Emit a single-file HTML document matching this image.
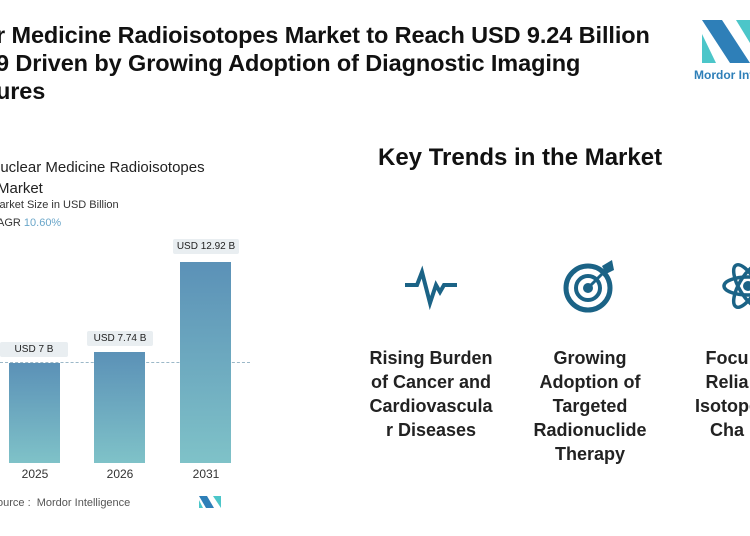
<!DOCTYPE html><html><head><style>
body{margin:0;width:750px;height:536px;background:#fff;position:relative;overflow:hidden;font-family:"Liberation Sans",sans-serif}
.a{position:absolute;white-space:nowrap}
.t{font-weight:bold;font-size:23.5px;color:#111;line-height:28px;letter-spacing:-0.1px}
.c{font-weight:bold;font-size:18px;color:#222;line-height:24px;text-align:center;width:170px}
.bar{position:absolute;background:linear-gradient(#5b91b7,#7fc2c8)}
.lb{position:absolute;background:#e9eef1;font-size:10px;color:#222;text-align:center;height:15px;line-height:15px;border-radius:2px}
.yr{position:absolute;font-size:12px;color:#333;width:60px;text-align:center}
</style></head><body>
<div class="a t" style="left:-4px;top:21px">r Medicine Radioisotopes Market to Reach USD 9.24 Billion<br>9 Driven by Growing Adoption of Diagnostic Imaging<br>ures</div>
<svg class="a" style="left:700px;top:18px" width="50" height="50"><polygon points="2,2 22,2 50,45 30,45" fill="#2e7fb8"/><polygon points="2,16 16,45 2,45" fill="#4cc6c9"/><polygon points="36,2 50,2 50,25" fill="#4cc6c9"/></svg>
<div class="a" style="left:694px;top:68px;font-size:12px;font-weight:bold;color:#2e7fb8">Mordor Inte</div>
<div class="a" style="left:-3px;top:157px;font-size:15px;color:#222;line-height:21px">luclear Medicine Radioisotopes<br>Market</div>
<div class="a" style="left:-3px;top:199px;font-size:11px;color:#333">larket Size in USD Billion</div>
<div class="a" style="left:-3px;top:217px;font-size:11px;color:#333">AGR <span style="color:#6aa6c9">10.60%</span></div>
<div class="a" style="left:0;top:362px;width:250px;border-top:1.5px dashed #9bb8c8"></div>
<div class="bar" style="left:9px;top:363px;width:51px;height:100px"></div>
<div class="bar" style="left:94px;top:352px;width:51px;height:111px"></div>
<div class="bar" style="left:180px;top:262px;width:51px;height:201px"></div>
<div class="lb" style="left:0;top:342px;width:68px">USD 7 B</div>
<div class="lb" style="left:87px;top:331px;width:66px">USD 7.74 B</div>
<div class="lb" style="left:173px;top:239px;width:66px">USD 12.92 B</div>
<div class="yr" style="left:5px;top:467px">2025</div>
<div class="yr" style="left:90px;top:467px">2026</div>
<div class="yr" style="left:176px;top:467px">2031</div>
<div class="a" style="left:-3px;top:497px;font-size:11px;color:#555">ource : &nbsp;Mordor Intelligence</div>
<svg class="a" style="left:199px;top:496px" width="22" height="12"><polygon points="0,0 8,0 15,12 7,12" fill="#2e7fb8"/><polygon points="14,0 22,0 22,12" fill="#4cc6c9"/><polygon points="0,4 4,12 0,12" fill="#4cc6c9"/></svg>
<div class="a" style="left:378px;top:144px;font-size:24px;font-weight:bold;color:#111">Key Trends in the Market</div>
<svg class="a" style="left:400px;top:265px" width="60" height="45"><polyline points="5,20 17,20 22,7 30,38 36,20 40,27 44,20 57,20" fill="none" stroke="#1b6386" stroke-width="4"/></svg>
<svg class="a" style="left:560px;top:258px" width="60" height="56"><circle cx="28" cy="30" r="22" fill="none" stroke="#1b6386" stroke-width="5"/><circle cx="28" cy="30" r="12" fill="none" stroke="#1b6386" stroke-width="4"/><circle cx="28" cy="30" r="5" fill="#1b6386"/><line x1="28" y1="30" x2="48" y2="10" stroke="#1b6386" stroke-width="3"/><polygon points="42,8 52,2 54,12 46,16" fill="#1b6386"/></svg>
<svg class="a" style="left:722px;top:258px" width="40" height="56"><ellipse cx="26" cy="28" rx="24" ry="9" fill="none" stroke="#1b6386" stroke-width="3.5"/><ellipse cx="26" cy="28" rx="24" ry="9" transform="rotate(60 26 28)" fill="none" stroke="#1b6386" stroke-width="3.5"/><ellipse cx="26" cy="28" rx="24" ry="9" transform="rotate(-60 26 28)" fill="none" stroke="#1b6386" stroke-width="3.5"/><circle cx="26" cy="28" r="5" fill="#1b6386"/></svg>
<div class="a c" style="left:346px;top:346px">Rising Burden<br>of Cancer and<br>Cardiovascula<br>r Diseases</div>
<div class="a c" style="left:505px;top:346px">Growing<br>Adoption of<br>Targeted<br>Radionuclide<br>Therapy</div>
<div class="a c" style="left:642px;top:346px">Focu<br>Relia<br>Isotope<br>Cha</div>
</body></html>
